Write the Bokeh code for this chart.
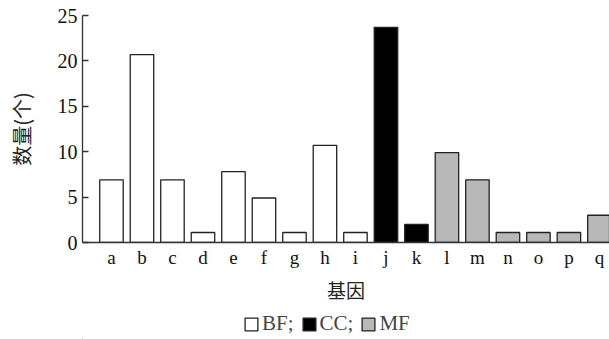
from bokeh.plotting import figure
from bokeh.layouts import column
from bokeh.models import ColumnDataSource, Legend, LegendItem, FixedTicker, Range1d
from bokeh.embed import file_html
from bokeh.resources import INLINE

genes = ["a", "b", "c", "d", "e", "f", "g", "h", "i", "j", "k", "l", "m", "n", "o", "p", "q"]
counts = [6.9, 20.7, 6.9, 1.1, 7.8, 4.9, 1.1, 10.7, 1.1, 23.7, 2.0, 9.9, 6.9, 1.1, 1.1, 1.1, 3.0]
groups = ["BF"] * 9 + ["CC"] * 2 + ["MF"] * 6
group_labels = {"BF": "BF;", "CC": "CC;", "MF": "MF"}
group_colors = {"BF": "#ffffff", "CC": "#000000", "MF": "#b8b8b8"}
y_ticks = [0, 5, 10, 15, 20, 25]

SERIF = "Liberation Serif"
CJK = "Noto Sans CJK SC"

p = figure(width=609, height=307, output_backend="svg", toolbar_location=None,
           x_range=Range1d(0.05, 17.33), y_range=Range1d(0, 25),
           min_border_left=82, min_border_right=0, min_border_top=15, min_border_bottom=65)

renderers = {}
for g in ["BF", "CC", "MF"]:
    xs = [i + 1 for i, gg in enumerate(groups) if gg == g]
    ys = [counts[i] for i, gg in enumerate(groups) if gg == g]
    src = ColumnDataSource(dict(x=xs, top=ys))
    renderers[g] = p.vbar(x="x", top="top", width=0.77, bottom=0, source=src,
                          fill_color=group_colors[g], line_color="#222222", line_width=1.3)

p.xgrid.visible = False
p.ygrid.visible = False
p.outline_line_color = None

p.xaxis.ticker = FixedTicker(ticks=list(range(1, 18)))
p.xaxis.major_label_overrides = {i + 1: g for i, g in enumerate(genes)}
p.xaxis.major_tick_in = 0
p.xaxis.major_tick_out = 0
p.xaxis.minor_tick_line_color = None
p.xaxis.axis_line_color = "#333333"
p.xaxis.axis_line_width = 1.3
p.xaxis.major_label_text_font = SERIF
p.xaxis.major_label_text_font_size = "19px"
p.xaxis.major_label_text_color = "#111111"
p.xaxis.major_label_standoff = 4
p.xaxis.axis_label = "基因"
p.xaxis.axis_label_text_font = CJK
p.xaxis.axis_label_text_font_size = "19px"
p.xaxis.axis_label_text_font_style = "normal"
p.xaxis.axis_label_text_color = "#222222"
p.xaxis.axis_label_standoff = 5

p.yaxis.ticker = FixedTicker(ticks=y_ticks)
p.yaxis.major_tick_in = 6
p.yaxis.major_tick_out = 0
p.yaxis.minor_tick_line_color = None
p.yaxis.axis_line_color = "#333333"
p.yaxis.axis_line_width = 1.3
p.yaxis.major_tick_line_color = "#333333"
p.yaxis.major_tick_line_width = 1.3
p.yaxis.major_label_text_font = SERIF
p.yaxis.major_label_text_font_size = "20px"
p.yaxis.major_label_text_color = "#111111"
p.yaxis.major_label_standoff = 5
p.yaxis.axis_label = "数量(个)"
p.yaxis.axis_label_text_font = CJK
p.yaxis.axis_label_text_font_size = "20px"
p.yaxis.axis_label_text_font_style = "normal"
p.yaxis.axis_label_text_color = "#222222"
p.yaxis.axis_label_standoff = 19

# legend strip below the chart (its glyph renderers lie outside the visible range)
lf = figure(width=609, height=32, output_backend="svg", toolbar_location=None,
            x_range=Range1d(0, 1), y_range=Range1d(0, 1), min_border=0)
lf.axis.visible = False
lf.grid.visible = False
lf.outline_line_color = None
leg_renderers = {}
for g in ["BF", "CC", "MF"]:
    leg_renderers[g] = lf.vbar(x=[-1000], top=[-1000], bottom=[-1001], width=0.1,
                               fill_color=group_colors[g], line_color="#222222", line_width=1.3)

legend = Legend(items=[LegendItem(label=group_labels[g], renderers=[leg_renderers[g]]) for g in ["BF", "CC", "MF"]],
                orientation="horizontal", location=(161, 3),
                border_line_color=None, background_fill_alpha=0,
                label_text_font=SERIF, label_text_font_size="21px",
                glyph_width=16, glyph_height=16, label_standoff=3, spacing=7,
                padding=0, margin=0)
lf.add_layout(legend, "center")

layout = column(p, lf, spacing=0)
open("out.html", "w").write(file_html(layout, INLINE))
